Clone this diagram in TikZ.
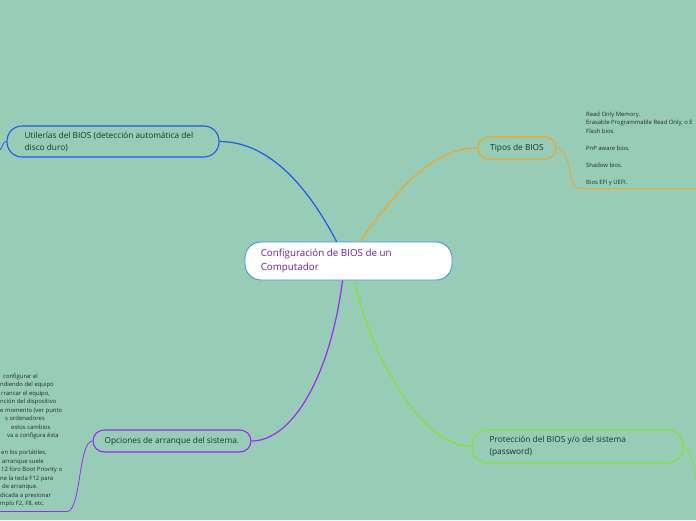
\documentclass[tikz,border=0pt]{standalone}
\usepackage{fontspec}
\setmainfont{Open Sans}
\usetikzlibrary{calc}
\definecolor{bg}{RGB}{151,204,183}
\definecolor{ublue}{RGB}{30,90,240}
\definecolor{torange}{RGB}{245,166,35}
\definecolor{pgreen}{RGB}{130,230,40}
\definecolor{opurple}{RGB}{160,40,240}
\definecolor{cborder}{RGB}{70,150,215}
\definecolor{ctext}{RGB}{110,30,160}
\definecolor{ttext}{RGB}{15,55,45}
\definecolor{stext}{RGB}{35,45,40}
\tikzset{
  box/.style={draw, line width=1.1pt, rounded corners=11pt, inner sep=0pt},
  lbl/.style={anchor=west, inner sep=0pt, align=left, text=ttext, font=\fontsize{8.3}{12}\selectfont},
  small/.style={inner sep=0pt, align=left, text=stext, font=\fontsize{5.9}{8.5}\selectfont},
  conn/.style={line width=1.2pt},
  tail/.style={line width=0.8pt}
}
\begin{document}
\begin{tikzpicture}[x=1pt,y=-1pt]
\useasboundingbox (0,0) rectangle (696,520);
\fill[bg] (0,0) rectangle (696,520);
\begin{scope}
\clip (0,0) rectangle (696,520);

% central node
\node[box, draw=cborder, line width=0.9pt, fill=white, rounded corners=16pt, minimum width=207pt, minimum height=38pt] (c) at (348.5,261) {};
\node[lbl, text=ctext, font=\fontsize{9.8}{14}\selectfont] (ct) at ($(c.west)+(16,0)$) {Configuración de BIOS de un\\Computador};

% Utilerias
\node[box, draw=ublue, rounded corners=15pt, minimum width=212pt, minimum height=31pt] (u) at (113,141.5) {};
\node[lbl] (ut) at ($(u.west)+(18,0)$) {Utilerías del BIOS (detección automática del\\disco duro)};

% Tipos de BIOS
\node[box, draw=torange, minimum width=78pt, minimum height=22pt] (t) at (517,148) {};
\node[lbl, anchor=center] (tt) at (t.center) {Tipos de BIOS};

% Proteccion
\node[box, draw=pgreen, rounded corners=15pt, minimum width=211pt, minimum height=33pt] (p) at (577.5,446.5) {};
\node[lbl] (pt) at ($(p.west)+(18,0)$) {Protección del BIOS y/o del sistema\\(password)};

% Opciones
\node[box, draw=opurple, minimum width=158pt, minimum height=22pt] (o) at (172,441) {};
\node[lbl] (ot) at ($(o.west)+(12,0)$) {Opciones de arranque del sistema.};

% connectors
\draw[conn, ublue] ($(c.north west)+(92,0)$) .. controls +(-22,-42) and +(56,0) .. (u.east);
\draw[conn, torange] ($(c.north west)+(115,0)$) .. controls +(35,-47) and +(-48,0) .. (t.west);
\draw[conn, opurple] ($(c.south west)+(98,0)$) .. controls +(-13,100) and +(39,0) .. (o.east);
\draw[conn, pgreen] ($(c.south west)+(110,0)$) .. controls +(15,70) and +(-52,0) .. (p.west);

% tails
\coordinate (ulend) at (0,150);
\draw[tail, ublue] (u.west) .. controls +(-4,0) and +(3,-3) .. (ulend);

\coordinate (tk) at (580,188.5);
\coordinate (tend) at (697,188.5);
\draw[tail, torange] (t.east) .. controls +(16,0) and +(-14,0) .. (tk);
\draw[line width=1.8pt, torange] (tk) -- (tend);

\coordinate (ok) at (67,511.5);
\coordinate (oend) at (-1,511.5);
\draw[tail, opurple] (o.west) .. controls +(-14,0) and +(14,0) .. (ok);
\draw[line width=1.8pt, opurple] (ok) -- (oend);

\coordinate (pend) at (698,500);
\draw[tail, pgreen] (p.east) .. controls +(6,0) and +(0,-25) .. (pend);

% small texts
\node[small, anchor=north west] (tl) at (586,111.5) {Read Only Memory.\\Erasable Programmable Read Only, o E\\Flash bios.\\[8.5pt]PnP aware bios.\\[8.5pt]Shadow bios.\\[8.5pt]Bios EFI y UEFI.};

\node[small, anchor=north west] (ol) at (0,373.5) {\hspace*{3pt}configurar el\\ndiendo del equipo\\\hspace*{1pt}rrancar el equipo,\\nción del dispositivo\\e momento (ver punto\\\hspace*{5pt}s ordenadores\\\hspace*{11pt}estos cambios\\\hspace*{7pt}va a configura ésta\\[8.5pt]\hspace*{1pt}en los portátiles,\\\hspace*{2pt}arranque suele\\\hspace*{1pt}12 foro Boot Priority o\\ne la tecla F12 para\\\hspace*{2pt}de arranque.\\dicada a presionar\\mplo F2, F8, etc.};
\end{scope}
\end{tikzpicture}
\end{document}
